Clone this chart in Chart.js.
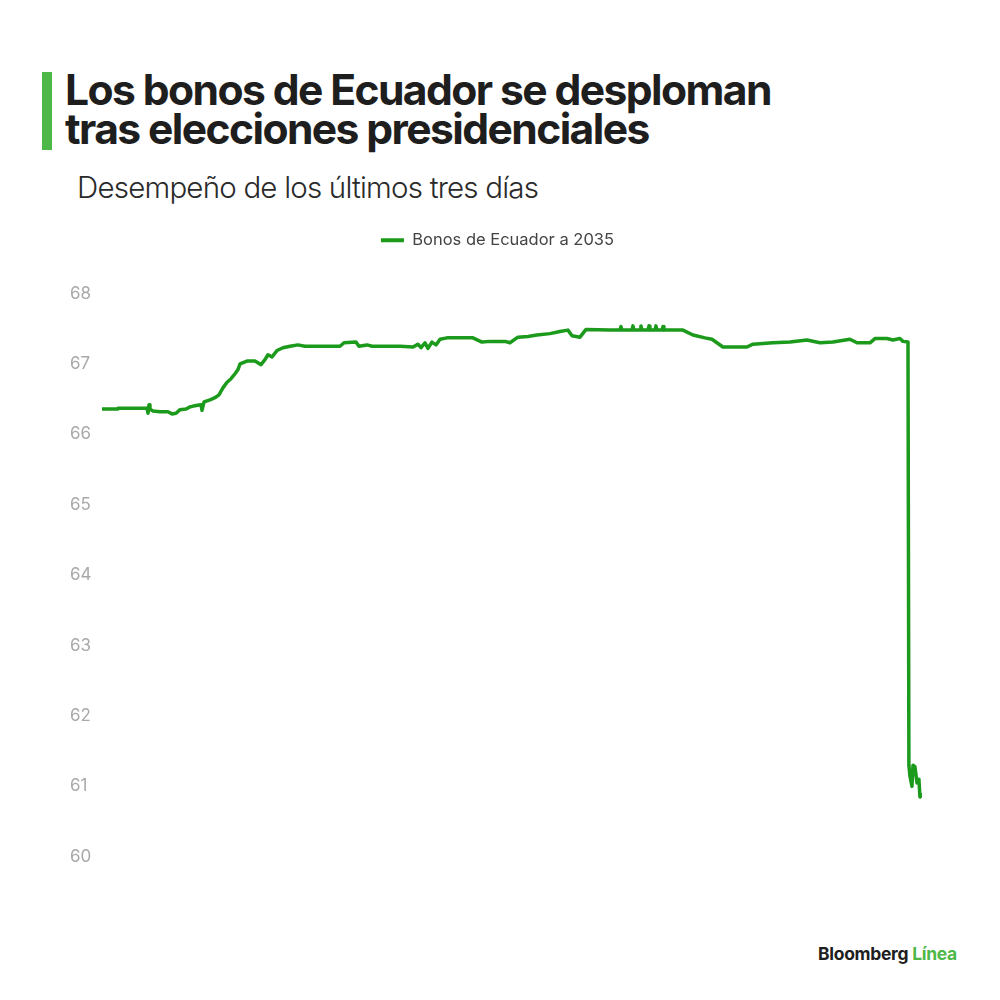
<!DOCTYPE html>
<html>
<head>
<meta charset="utf-8">
<script src="https://cdn.jsdelivr.net/npm/chart.js@4.4.1/dist/chart.umd.min.js"></script>
<style>
  html, body { margin: 0; padding: 0; background: #ffffff; }
  body { width: 1000px; height: 1000px; position: relative; overflow: hidden; font-family: Inter, "Noto Sans", sans-serif; }
  #bar { position: absolute; left: 42px; top: 72px; width: 10px; height: 78px; background: #4db847; }
  #title { position: absolute; left: 65px; top: 70px; font-family: Inter, sans-serif; font-weight: 700; font-size: 42.6px; line-height: 39px; letter-spacing: -1.6px; color: #1e1e1e; white-space: nowrap; }
  #subtitle { position: absolute; left: 77px; top: 169px; font-family: Inter, sans-serif; font-weight: 300; font-size: 29.5px; letter-spacing: -0.8px; color: #2a2a2a; white-space: nowrap; }
  #wrap { position: absolute; left: 0; top: 222px; width: 1000px; height: 655px; }
  #footer { position: absolute; left: 818px; top: 943px; font-family: Inter, sans-serif; font-weight: 700; font-size: 17.5px; letter-spacing: -0.3px; color: #1e1e1e; white-space: nowrap; }
  #footer span { color: #4db847; }
</style>
</head>
<body>
<div id="bar"></div>
<div id="title">Los bonos de Ecuador se desploman<br>tras elecciones presidenciales</div>
<div id="subtitle">Desempeño de los últimos tres días</div>
<div id="wrap"><canvas id="c"></canvas></div>
<div id="footer">Bloomberg <span>Línea</span></div>
<script>
// Elapsed time (hours over the three days)
const hours = [
  0.00, 1.32, 1.40, 3.95, 4.04, 4.13, 4.21, 4.48, 5.09, 5.79,
  6.15, 6.50, 6.85, 7.38, 7.73, 8.25, 8.69, 8.78, 8.96, 9.48,
  9.92, 10.27, 10.62, 10.98, 11.33, 11.68, 11.94, 12.12, 12.73, 13.43,
  13.96, 14.31, 14.57, 14.93, 15.37, 15.89, 16.51, 17.21, 17.82, 19.14,
  20.90, 21.25, 22.30, 22.56, 23.27, 23.71, 26.16, 27.31, 27.74, 28.01,
  28.36, 28.62, 28.97, 29.33, 29.68, 30.29, 32.57, 33.36, 34.07, 35.38,
  35.82, 36.52, 37.40, 38.19, 39.33, 40.21, 40.91, 41.27, 41.97, 42.50,
  44.60, 45.48, 45.57, 45.66, 46.53, 46.62, 46.71, 47.24, 47.32, 47.41,
  47.94, 48.03, 48.11, 48.55, 48.64, 48.73, 49.17, 49.26, 49.34, 51.01,
  51.89, 52.94, 53.56, 54.52, 56.63, 57.16, 58.91, 60.41, 61.90, 63.04,
  64.18, 65.67, 66.29, 67.43, 67.87, 68.92, 69.45, 70.06, 70.33, 70.77,
  70.85, 70.94, 71.12, 71.21, 71.38, 71.56, 71.73, 71.82, 72.00
];
// Bond price, Ecuador 2035
const prices = [
  66.36, 66.36, 66.37, 66.37, 66.30, 66.42, 66.36, 66.33, 66.32, 66.32,
  66.29, 66.30, 66.35, 66.36, 66.39, 66.41, 66.42, 66.34, 66.46, 66.49,
  66.52, 66.56, 66.66, 66.74, 66.79, 66.86, 66.92, 67.00, 67.04, 67.04,
  66.99, 67.06, 67.13, 67.10, 67.19, 67.23, 67.25, 67.27, 67.25, 67.25,
  67.25, 67.30, 67.31, 67.25, 67.27, 67.25, 67.25, 67.24, 67.28, 67.23,
  67.30, 67.22, 67.31, 67.27, 67.35, 67.37, 67.37, 67.31, 67.32, 67.32,
  67.30, 67.38, 67.39, 67.41, 67.43, 67.46, 67.48, 67.40, 67.38, 67.49,
  67.48, 67.48, 67.53, 67.48, 67.48, 67.54, 67.48, 67.48, 67.54, 67.48,
  67.48, 67.54, 67.48, 67.48, 67.54, 67.48, 67.48, 67.53, 67.48, 67.48,
  67.41, 67.37, 67.35, 67.24, 67.24, 67.28, 67.30, 67.31, 67.34, 67.30,
  67.31, 67.35, 67.30, 67.30, 67.36, 67.36, 67.34, 67.36, 67.32, 67.31,
  61.30, 61.15, 61.00, 61.30, 61.28, 61.05, 61.10, 60.85, 60.88
];
const seriesLabel = 'Bonos de Ecuador a 2035';
const yTicks = [60, 61, 62, 63, 64, 65, 66, 67, 68];

const points = hours.map((h, i) => ({ x: h, y: prices[i] }));
const green = '#1b9a1b';

const legendSpacer = {
  id: 'legendSpacer',
  beforeInit(chart) {
    const origFit = chart.legend.fit;
    chart.legend.fit = function () {
      origFit.bind(chart.legend)();
      this.height += 35;
    };
  },
  afterLayout(chart) {
    chart.legend.left += 1.5;
    chart.legend.right += 1.5;
  }
};

new Chart(document.getElementById('c'), {
  type: 'line',
  data: {
    datasets: [{
      label: seriesLabel,
      data: points,
      borderColor: green,
      backgroundColor: green,
      borderWidth: 3.5,
      borderJoinStyle: 'round',
      borderCapStyle: 'round',
      pointRadius: 0,
      tension: 0,
      fill: false
    }]
  },
  plugins: [legendSpacer],
  options: {
    responsive: true,
    maintainAspectRatio: false,
    animation: false,
    layout: { padding: { left: 70, right: 78, top: 0, bottom: 0 } },
    plugins: {
      legend: {
        display: true,
        position: 'top',
        align: 'center',
        labels: {
          boxWidth: 23,
          boxHeight: 4,
          padding: 10,
          color: '#444',
          font: { family: 'Inter', size: 16.5 },
          generateLabels: (chart) => chart.data.datasets.map((ds, i) => ({
            text: ds.label, fillStyle: ds.borderColor, strokeStyle: ds.borderColor,
            lineWidth: 0, hidden: false, datasetIndex: i, fontColor: '#444'
          }))
        }
      },
      tooltip: { enabled: false }
    },
    scales: {
      x: {
        type: 'linear',
        min: 0,
        max: 72,
        display: false
      },
      y: {
        min: 60,
        max: 68,
        afterBuildTicks: (axis) => { axis.ticks = yTicks.map(v => ({ value: v })); },
        afterFit: (axis) => { axis.width = 32; },
        grid: { display: false, drawTicks: false },
        border: { display: false },
        ticks: {
          padding: 10,
          crossAlign: 'far',
          color: '#a9a9a9',
          font: { family: 'Inter', size: 17 }
        }
      }
    }
  }
});
</script>
</body>
</html>
